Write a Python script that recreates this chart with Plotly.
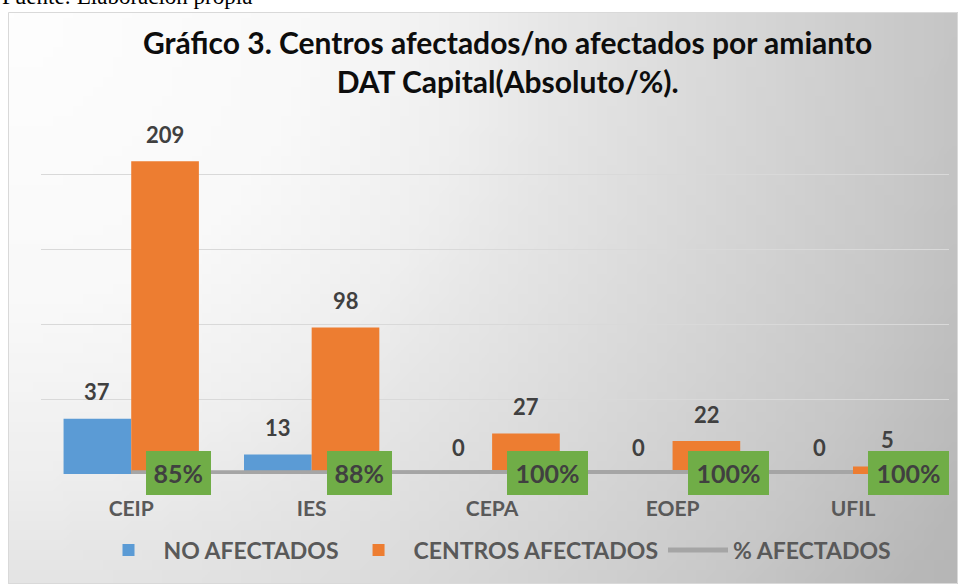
import base64
import struct
import zlib

import numpy as np
import plotly.graph_objects as go

# ---------------- data ----------------
categories = ["CEIP", "IES", "CEPA", "EOEP", "UFIL"]
no_afectados = [37, 13, 0, 0, 0]
centros_afectados = [209, 98, 27, 22, 5]
pct_afectados = [0.85, 0.88, 1.00, 1.00, 1.00]
pct_labels = ["85%", "88%", "100%", "100%", "100%"]

title_text = "Gráfico 3. Centros afectados/no afectados por amianto<br>DAT Capital(Absoluto/%)."
source_text = "Fuente: Elaboración propia"

# ---------------- geometry / style ----------------
W, H = 958, 584
ML, MR, MT, MB = 41, 9, 100, 110
PW, PH = W - ML - MR, H - MT - MB

FONT = "Lato"
BLUE = "#5b9bd5"
ORANGE = "#ed7d31"
GRAY_LINE = "#a5a5a5"
GREEN = "#70ad47"
LABEL = "#404040"
AXIS_TXT = "#595959"


def px_to_paper_x(px):
    return (px - ML) / PW


def px_to_paper_y(py):
    return 1 - (py - MT) / PH


# background gradient image (chart area, radial from top-left corner)
fx0, fy0, fx1, fy1 = 8, 12, 958, 584
gw, gh = 96, 58
xs = np.linspace(0, fx1 - fx0, gw)
ys = np.linspace(0, fy1 - fy0, gh)
XX, YY = np.meshgrid(xs, ys)
D = np.sqrt(XX ** 2 + YY ** 2)
stops_d = [0, 300, 464, 545, 922, 1073, 1200]
stops_v = [254, 249, 239, 231, 200, 184, 178]
V = np.interp(D, stops_d, stops_v).clip(0, 255).astype(np.uint8)


def make_png(arr):
    h, w = arr.shape
    raw = b"".join(b"\x00" + arr[i].tobytes() for i in range(h))

    def chunk(t, data):
        c = struct.pack(">I", len(data)) + t + data
        return c + struct.pack(">I", zlib.crc32(t + data) & 0xFFFFFFFF)

    return (b"\x89PNG\r\n\x1a\n" + chunk(b"IHDR", struct.pack(">IIBBBBB", w, h, 8, 0, 0, 0, 0))
            + chunk(b"IDAT", zlib.compress(raw, 9)) + chunk(b"IEND", b""))


bg_uri = "data:image/png;base64," + base64.b64encode(make_png(V)).decode()

fig = go.Figure()

fig.add_trace(go.Bar(
    name="NO AFECTADOS", x=categories, y=no_afectados,
    marker=dict(color=BLUE, line=dict(width=0)),
))
fig.add_trace(go.Bar(
    name="CENTROS AFECTADOS", x=categories, y=centros_afectados,
    marker=dict(color=ORANGE, line=dict(width=0)),
))
fig.add_trace(go.Scatter(
    name="% AFECTADOS", x=categories, y=pct_afectados, mode="lines",
    line=dict(color=GRAY_LINE, width=5),
))

annotations = []
# title
annotations.append(dict(x=px_to_paper_x(507), y=px_to_paper_y(61), xref="paper", yref="paper",
                        text=title_text, showarrow=False, xanchor="center", yanchor="middle",
                        align="center",
                        font=dict(family=FONT, size=30, color="#0d0d0d", weight="bold")))
# bar value labels
for cat, v in zip(categories, no_afectados):
    annotations.append(dict(x=cat, y=v, xref="x", yref="y", text=str(v), showarrow=False,
                            xshift=-34, yshift=27, yanchor="middle",
                            font=dict(family=FONT, size=22, color=LABEL, weight="bold")))
for cat, v in zip(categories, centros_afectados):
    annotations.append(dict(x=cat, y=v, xref="x", yref="y", text=str(v), showarrow=False,
                            xshift=34, yshift=27, yanchor="middle",
                            font=dict(family=FONT, size=22, color=LABEL, weight="bold")))
# percentage labels (green boxes)
for cat, p, lab in zip(categories, pct_afectados, pct_labels):
    annotations.append(dict(x=cat, y=p, xref="x", yref="y", text=lab, showarrow=False,
                            xanchor="left", yanchor="middle", xshift=15,
                            width=15 + 16.5 * len(lab), height=44,
                            bgcolor=GREEN, borderpad=0, borderwidth=0,
                            font=dict(family=FONT, size=25, color=LABEL, weight="bold")))
# source line (mostly cut at top of the page)
annotations.append(dict(x=px_to_paper_x(0), y=px_to_paper_y(-4), xref="paper", yref="paper",
                        text=source_text, showarrow=False, xanchor="left", yanchor="middle",
                        font=dict(family="Liberation Serif", size=23, color="#000000")))

fig.update_layout(
    width=W, height=H,
    margin=dict(l=ML, r=MR, t=MT, b=MB, autoexpand=False),
    paper_bgcolor="#ffffff",
    plot_bgcolor="rgba(0,0,0,0)",
    barmode="group", bargap=0.25, bargroupgap=0,
    xaxis=dict(showgrid=False, zeroline=False, showline=False,
               ticks="outside", ticklen=16, tickcolor="rgba(0,0,0,0)",
               tickfont=dict(family=FONT, size=21, color=AXIS_TXT, weight="bold")),
    yaxis=dict(range=[0, 250], dtick=50, showgrid=True, gridcolor="#d9d9d9", gridwidth=1,
               zeroline=False, showticklabels=False, showline=False),
    legend=dict(orientation="h", x=0.5, xanchor="center", y=px_to_paper_y(550), yanchor="middle",
                bgcolor="rgba(0,0,0,0)",
                font=dict(family=FONT, size=23, color=AXIS_TXT, weight="bold"),
                itemwidth=60, traceorder="normal"),
    showlegend=True,
    annotations=annotations,
    images=[dict(source=bg_uri, xref="paper", yref="paper",
                 x=px_to_paper_x(fx0), y=px_to_paper_y(fy0),
                 sizex=px_to_paper_x(fx1) - px_to_paper_x(fx0),
                 sizey=px_to_paper_y(fy0) - px_to_paper_y(fy1),
                 xanchor="left", yanchor="top", sizing="stretch", layer="below")],
    shapes=[dict(type="rect", xref="paper", yref="paper",
                 x0=px_to_paper_x(fx0 + 0.5), x1=px_to_paper_x(fx1 - 0.5),
                 y0=px_to_paper_y(fy1 - 0.5), y1=px_to_paper_y(fy0 + 0.5),
                 line=dict(color="#d9d9d9", width=1), fillcolor="rgba(0,0,0,0)", layer="below")],
)

fig.write_html(
    "out.html",
    config={"displayModeBar": False},
    post_script="document.body.style.margin='0';document.body.style.overflow='hidden';",
)
